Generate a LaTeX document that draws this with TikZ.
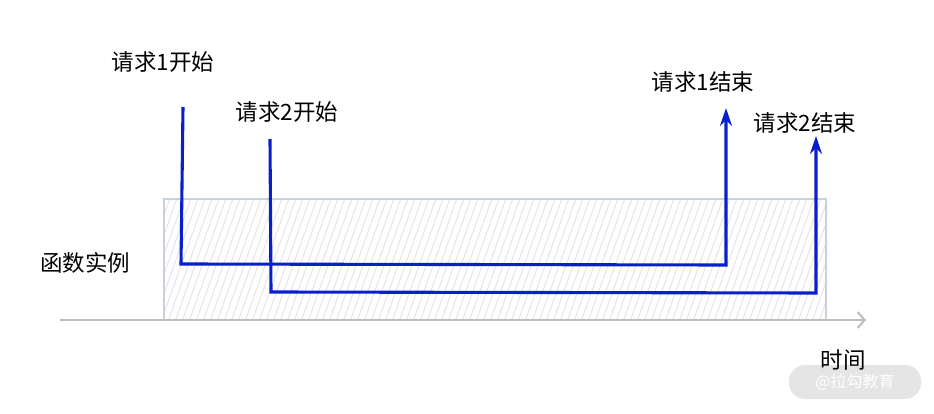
\documentclass[tikz,border=0pt]{standalone}
\usepackage{fontspec}
\setmainfont{Noto Sans CJK SC}
\usetikzlibrary{arrows.meta}
\definecolor{reqblue}{HTML}{0A1FCC}
\definecolor{boxedge}{HTML}{C8D0DC}
\definecolor{hatch}{HTML}{E2E2E2}
\definecolor{axisgray}{HTML}{BDBDBD}
\tikzset{
  lbl/.style={font=\fontsize{22.5}{26}\selectfont, text=black, inner sep=0pt},
  req/.style={draw=reqblue, line width=3.1pt, line join=miter, -{Stealth[length=18pt,width=12pt]}},
  axisline/.style={draw=axisgray, line width=2.2pt, -{Straight Barb[length=7pt,width=16pt,line width=2pt]}},
}
\begin{document}
\begin{tikzpicture}[x=1pt,y=1pt]
\useasboundingbox (0,0) rectangle (934,-414);
% hatched box
\begin{scope}
\clip (164,-199) rectangle (826,-320);
\foreach \i in {0,7,...,770} {
  \draw[hatch, line width=0.9pt] (95+\i,-330) -- (145+\i,-190);
}
\end{scope}
\node[draw=boxedge, line width=2.4pt, minimum width=662pt, minimum height=121pt, inner sep=0pt] (box) at (495,-259.5) {};
% axis
\coordinate (a0) at (60,-320);
\coordinate (a1) at (866,-320);
\draw[axisline] (a0) -- (a1);
% watermark
\node[fill=gray!20, rounded corners=16pt, minimum width=132pt, minimum height=34pt, text=white, font=\fontsize{16}{19}\selectfont] (wm) at (855,-382) {@拉勾教育};
% labels
\node[lbl] (l1s) at (163,-62) {请求1开始};
\node[lbl] (l2s) at (287,-112) {请求2开始};
\node[lbl] (l1e) at (703,-82) {请求1结束};
\node[lbl] (l2e) at (805,-123) {请求2结束};
\node[lbl] (inst) at (85,-263) {函数实例};
\node[lbl] (time) at (843,-360) {时间};
% request 1
\coordinate (s1) at (183,-107);
\coordinate (c1a) at (181,-264);
\coordinate (c1b) at (726,-265);
\coordinate (e1) at (726,-108);
\draw[req] (s1) -- (c1a) -- (c1b) -- (e1);
% request 2
\coordinate (s2) at (270,-139);
\coordinate (c2a) at (271,-292);
\coordinate (c2b) at (816,-293);
\coordinate (e2) at (816,-136);
\draw[req] (s2) -- (c2a) -- (c2b) -- (e2);
\end{tikzpicture}
\end{document}
